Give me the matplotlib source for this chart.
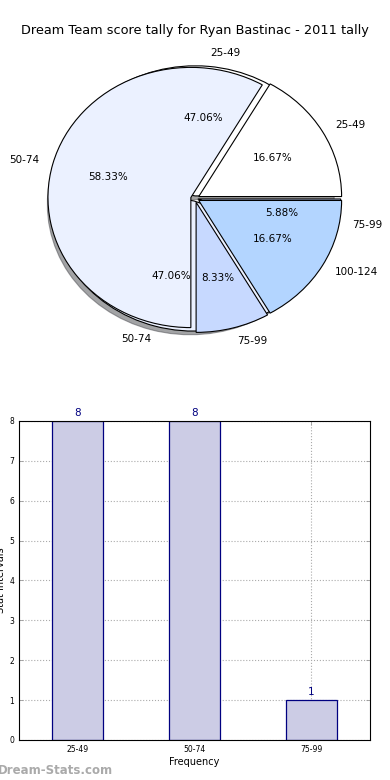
import matplotlib
matplotlib.use('Agg')
import matplotlib.pyplot as plt
import numpy as np

title = 'Dream Team score tally for Ryan Bastinac - 2011 tally'

# back pie (with shadow)
back_labels = ['25-49', '50-74', '75-99']
back_values = [8, 8, 1]
back_colors = ['#FFFFFF', '#EBF1FF', '#C7D9FF']

# front pie
front_labels = ['25-49', '50-74', '75-99', '100-124']
front_values = [2, 7, 1, 2]
front_colors = ['#FFFFFF', '#EBF1FF', '#C7D9FF', '#B3D5FF']

# bar chart
bar_labels = ['25-49', '50-74', '75-99']
bar_values = [8, 8, 1]


def main():
    fig = plt.figure(figsize=(3.9, 7.8), dpi=100)
    fig.text(0.5, 0.961, title, ha='center', va='center', fontsize=9.3)

    ax = fig.add_axes([0.042, 0.537, 0.916, 0.417])
    wedgeprops = {'edgecolor': 'black', 'linewidth': 0.8}
    ax.pie(back_values, labels=back_labels, colors=back_colors, autopct='%.2f%%',
           explode=[0.02] * len(back_values), shadow=True,
           wedgeprops=wedgeprops, textprops={'fontsize': 7.5})
    ax.pie(front_values, labels=front_labels, colors=front_colors, autopct='%.2f%%',
           explode=[0.03] * len(front_values),
           wedgeprops=wedgeprops, textprops={'fontsize': 7.5})
    ax.set_aspect('auto')
    ax.set_xlim(-1.25, 1.25)
    ax.set_ylim(-1.25, 1.25)

    bx = fig.add_axes([0.0487, 0.0513, 0.9, 0.409])
    x = np.arange(len(bar_values))
    bars = bx.bar(x, bar_values, width=0.44, color='#CCCCE5', edgecolor='#000080',
                  linewidth=0.9, zorder=2)
    for rect, v in zip(bars, bar_values):
        bx.text(rect.get_x() + rect.get_width() / 2, v + 0.08, str(v),
                ha='center', va='bottom', color='#000080', fontsize=7.5)
    bx.set_xlim(-0.5, 2.5)
    bx.set_ylim(0, 8)
    bx.set_xticks(x)
    bx.set_xticklabels(bar_labels)
    bx.set_yticks(range(0, 9))
    bx.tick_params(labelsize=5.5, direction='in', length=3, right=True, top=True,
                   width=0.6, color='#999999')
    bx.grid(True, linestyle=':', color='#AAAAAA', linewidth=0.8, zorder=0)
    bx.set_axisbelow(True)
    bx.set_xlabel('Frequency', fontsize=7, labelpad=2)
    bx.set_ylabel('Stat Intervals', fontsize=7, labelpad=2)

    fig.text(-0.005, 0.012, 'Dream-Stats.com', fontsize=8.5, fontweight='bold',
             color='#AAAAAA', ha='left', va='center')

    fig.savefig('out.png', dpi=100)


if __name__ == '__main__':
    main()
